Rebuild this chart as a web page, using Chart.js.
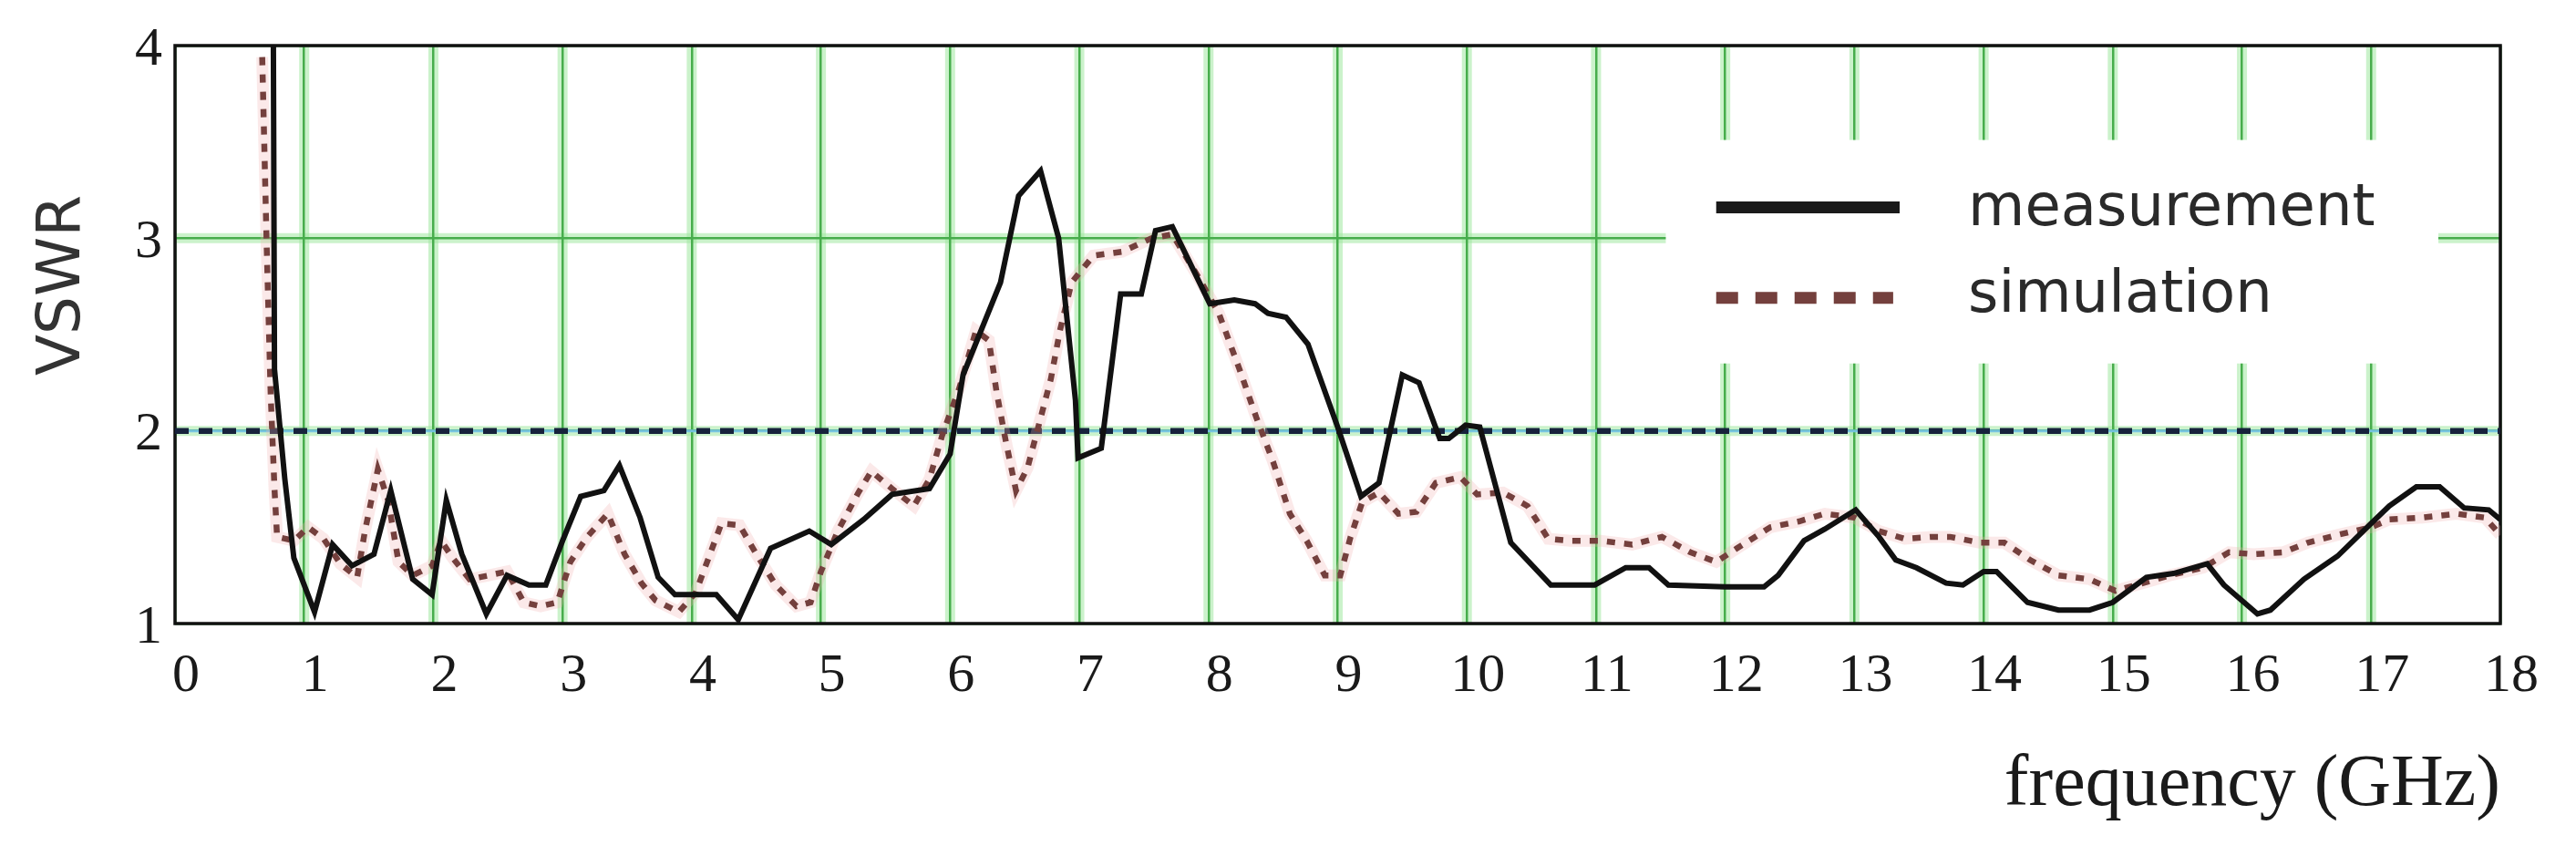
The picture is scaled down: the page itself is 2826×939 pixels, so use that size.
<!DOCTYPE html>
<html>
<head>
<meta charset="utf-8">
<script src="https://cdn.jsdelivr.net/npm/chart.js@4.4.1/dist/chart.umd.min.js"></script>
<style>
  html, body { margin: 0; padding: 0; background: #fff; }
  #wrap { width: 2826px; height: 939px; }
</style>
</head>
<body>
<div id="wrap"><canvas id="vswrChart" width="2826" height="939"></canvas></div>
<script>
// Measured VSWR (black solid line)
const measFreq = [0.76, 0.77, 0.85, 0.92, 1.08, 1.22, 1.37, 1.54, 1.67, 1.84, 1.99, 2.10, 2.22, 2.41, 2.57, 2.74, 2.87,
  3.00, 3.14, 3.32, 3.44, 3.60, 3.74, 3.87, 4.19, 4.36, 4.61, 4.91, 5.08, 5.33, 5.55, 5.84, 6.00, 6.10, 6.39, 6.53,
  6.70, 6.84, 6.97, 6.99, 7.17, 7.32, 7.48, 7.59, 7.72, 8.01, 8.20, 8.36, 8.46, 8.60, 8.77, 9.00, 9.18, 9.32, 9.50,
  9.63, 9.79, 9.86, 9.99, 10.10, 10.34, 10.65, 10.99, 11.23, 11.41, 11.56, 12.00, 12.30, 12.41, 12.61, 12.77, 13.01,
  13.19, 13.32, 13.48, 13.71, 13.84, 14.00, 14.10, 14.34, 14.58, 14.82, 15.00, 15.26, 15.47, 15.73, 15.86, 16.12,
  16.22, 16.48, 16.74, 17.00, 17.14, 17.35, 17.53, 17.72, 17.91, 18.00];
const measVswr = [4.30, 2.32, 1.75, 1.34, 1.06, 1.41, 1.30, 1.36, 1.69, 1.23, 1.15, 1.64, 1.36, 1.05, 1.25, 1.20, 1.20,
  1.43, 1.66, 1.69, 1.82, 1.55, 1.24, 1.15, 1.15, 1.02, 1.39, 1.48, 1.41, 1.54, 1.67, 1.70, 1.88, 2.29, 2.77, 3.22,
  3.35, 3.00, 2.16, 1.86, 1.91, 2.71, 2.71, 3.04, 3.06, 2.66, 2.68, 2.66, 2.61, 2.59, 2.45, 2.02, 1.66, 1.73, 2.29,
  2.25, 1.96, 1.96, 2.03, 2.02, 1.42, 1.20, 1.20, 1.29, 1.29, 1.20, 1.19, 1.19, 1.25, 1.43, 1.49, 1.59,
  1.45, 1.33, 1.29, 1.21, 1.20, 1.27, 1.27, 1.11, 1.07, 1.07, 1.11, 1.24, 1.26, 1.31, 1.20, 1.05,
  1.07, 1.23, 1.35, 1.52, 1.61, 1.71, 1.71, 1.60, 1.59, 1.54];

// Simulated VSWR (brown dotted line)
const simFreq = [0.675, 0.71, 0.74, 0.77, 0.79, 0.92, 1.03, 1.15, 1.28, 1.41, 1.47, 1.57, 1.65, 1.73, 1.84, 1.99, 2.06,
  2.15, 2.28, 2.43, 2.57, 2.70, 2.83, 2.96, 3.06, 3.19, 3.35, 3.48, 3.61, 3.72, 3.90, 4.03, 4.13, 4.23, 4.37, 4.50,
  4.65, 4.81, 4.92, 5.00, 5.13, 5.29, 5.39, 5.55, 5.72, 5.84, 5.94, 6.07, 6.20, 6.30, 6.36, 6.43, 6.51, 6.60, 6.69,
  6.78, 6.85, 6.94, 7.11, 7.33, 7.56, 7.72, 7.92, 8.08, 8.24, 8.37, 8.50, 8.63, 8.76, 8.90, 9.02, 9.10, 9.19, 9.32,
  9.47, 9.61, 9.76, 9.95, 10.08, 10.28, 10.47, 10.63, 10.80, 11.03, 11.28, 11.51, 11.73, 11.93, 12.09, 12.35, 12.57,
  12.77, 13.00, 13.19, 13.39, 13.60, 13.74, 13.97, 14.16, 14.36, 14.58, 14.82, 15.02, 15.18, 15.44, 15.70, 15.90,
  16.09, 16.32, 16.51, 16.74, 17.00, 17.14, 17.40, 17.66, 17.88, 18.00];
const simVswr = [3.94, 2.95, 2.20, 1.70, 1.45, 1.43, 1.50, 1.44, 1.31, 1.24, 1.48, 1.80, 1.64, 1.32, 1.25, 1.30, 1.43,
  1.34, 1.23, 1.25, 1.27, 1.11, 1.09, 1.11, 1.32, 1.45, 1.57, 1.36, 1.21, 1.12, 1.06, 1.16, 1.34, 1.52, 1.51, 1.36,
  1.20, 1.09, 1.11, 1.27, 1.48, 1.68, 1.79, 1.70, 1.61, 1.75, 1.98, 2.22, 2.52, 2.47, 2.20, 1.95, 1.69, 1.81, 2.04,
  2.27, 2.52, 2.77, 2.91, 2.93, 3.00, 3.02, 2.80, 2.61, 2.32, 2.07, 1.84, 1.57, 1.43, 1.25, 1.25, 1.45, 1.63, 1.68,
  1.57, 1.58, 1.73, 1.76, 1.67, 1.68, 1.61, 1.44, 1.43, 1.43, 1.41, 1.45, 1.37, 1.32, 1.39, 1.50, 1.53,
  1.57, 1.55, 1.48, 1.44, 1.45, 1.45, 1.42, 1.42, 1.33, 1.25, 1.23, 1.17, 1.20, 1.25, 1.29, 1.37,
  1.36, 1.37, 1.42, 1.46, 1.50, 1.54, 1.55, 1.57, 1.55, 1.46];

// VSWR = 2 reference level
const refFreq = [0, 18];
const refVswr = [2, 2];

const seriesNames = ['measurement', 'simulation'];

const toPoints = (xs, ys) => xs.map((x, i) => ({ x: x, y: ys[i] }));

const gridCore = '#47ad4c';
const gridGlow = 'rgba(160, 232, 160, 0.55)';
const simColor = '#74403d';

// Soft halo under the green grid lines, drawn before the scales
const gridGlowPlugin = {
    id: 'gridGlow',
    beforeDraw(chart) {
        const { ctx, chartArea: a, scales: { x, y } } = chart;
        ctx.save();
        ctx.fillStyle = '#fff';
        ctx.fillRect(0, 0, chart.width, chart.height);
        ctx.strokeStyle = gridGlow;
        ctx.lineWidth = 11;
        for (let v = 1; v < 18; v++) {
            const px = x.getPixelForValue(v);
            ctx.beginPath(); ctx.moveTo(px, a.top); ctx.lineTo(px, a.bottom); ctx.stroke();
        }
        [2, 3].forEach(v => {
            const py = y.getPixelForValue(v);
            ctx.beginPath(); ctx.moveTo(a.left, py); ctx.lineTo(a.right, py); ctx.stroke();
        });
        ctx.restore();
    }
};

// Frame, legend box and y title
const framePlugin = {
    id: 'frame',
    beforeDatasetsDraw(chart) {
        const { ctx, chartArea: a, scales: { x, y } } = chart;
        ctx.save();
        // white legend box hides the grid behind it
        const bx0 = x.getPixelForValue(11.54), bx1 = x.getPixelForValue(17.52);
        const by0 = y.getPixelForValue(3.51), by1 = y.getPixelForValue(2.35);
        ctx.fillStyle = '#fff';
        ctx.fillRect(bx0, by0, bx1 - bx0, by1 - by0);
        // black frame
        ctx.strokeStyle = '#111';
        ctx.lineWidth = 3.5;
        ctx.strokeRect(a.left, a.top, a.right - a.left, a.bottom - a.top);
        ctx.restore();
    },
    afterDatasetsDraw(chart) {
        const { ctx, scales: { x, y } } = chart;
        ctx.save();
        const lx0 = x.getPixelForValue(11.93);
        // measurement sample
        ctx.strokeStyle = '#1a1a1a';
        ctx.lineWidth = 13;
        ctx.beginPath();
        ctx.moveTo(lx0, y.getPixelForValue(3.16));
        ctx.lineTo(x.getPixelForValue(13.35), y.getPixelForValue(3.16));
        ctx.stroke();
        // simulation sample
        ctx.strokeStyle = simColor;
        ctx.lineWidth = 13;
        ctx.setLineDash([24, 19]);
        ctx.beginPath();
        ctx.moveTo(lx0, y.getPixelForValue(2.69));
        ctx.lineTo(x.getPixelForValue(13.30), y.getPixelForValue(2.69));
        ctx.stroke();
        ctx.setLineDash([]);
        // legend text
        ctx.fillStyle = '#2a2a2a';
        ctx.font = '64px "DejaVu Sans"';
        ctx.textBaseline = 'alphabetic';
        ctx.textAlign = 'left';
        const tx = x.getPixelForValue(13.88);
        ctx.fillText(seriesNames[0], tx, y.getPixelForValue(3.07));
        ctx.fillText(seriesNames[1], tx, y.getPixelForValue(2.62));
        // y axis title
        ctx.translate(70, 313);
        ctx.rotate(-Math.PI / 2);
        ctx.textAlign = 'center';
        ctx.textBaseline = 'middle';
        ctx.font = '66px "DejaVu Sans"';
        ctx.fillStyle = '#333';
        ctx.fillText('VSWR', 0, 0);
        ctx.restore();
    }
};

const ctx = document.getElementById('vswrChart').getContext('2d');
// Chart.js paints datasets from last to first, so the top line comes first
new Chart(ctx, {
    type: 'line',
    data: {
        datasets: [
            {
                label: seriesNames[0],
                data: toPoints(measFreq, measVswr),
                borderColor: '#111',
                borderWidth: 6,
                pointRadius: 0,
                tension: 0
            },
            {
                label: seriesNames[1],
                data: toPoints(simFreq, simVswr),
                borderColor: simColor,
                borderWidth: 6.5,
                borderDash: [9, 10],
                pointRadius: 0,
                tension: 0
            },
            {
                label: seriesNames[1] + '-halo',
                data: toPoints(simFreq, simVswr),
                borderColor: 'rgba(240, 175, 175, 0.28)',
                borderWidth: 13,
                pointRadius: 0,
                tension: 0
            },
            {
                label: 'ref',
                data: toPoints(refFreq, refVswr),
                borderColor: '#17223c',
                borderWidth: 6.5,
                borderDash: [15, 11],
                pointRadius: 0
            },
            {
                label: 'ref-halo',
                data: toPoints(refFreq, refVswr),
                borderColor: 'rgba(120, 195, 235, 0.9)',
                borderWidth: 3,
                pointRadius: 0
            }
        ]
    },
    options: {
        responsive: false,
        devicePixelRatio: 1,
        animation: false,
        layout: { padding: { top: 43, right: 83, left: 0, bottom: 0 } },
        plugins: {
            legend: { display: false },
            tooltip: { enabled: false }
        },
        scales: {
            x: {
                type: 'linear',
                min: 0,
                max: 18,
                afterFit: s => { s.height = 255; },
                ticks: {
                    stepSize: 1,
                    autoSkip: false,
                    maxRotation: 0,
                    labelOffset: 12,
                    padding: 22,
                    color: '#1a1a1a',
                    font: { family: '"Liberation Serif", serif', size: 60 }
                },
                grid: { color: gridCore, lineWidth: 2.5, drawTicks: false },
                border: { display: false },
                title: {
                    display: true,
                    text: 'frequency (GHz)',
                    align: 'end',
                    color: '#1a1a1a',
                    font: { family: '"Liberation Serif", serif', size: 80 },
                    padding: { top: 0, bottom: 29 }
                }
            },
            y: {
                type: 'linear',
                min: 1,
                max: 4,
                afterFit: s => { s.width = 192; },
                ticks: {
                    stepSize: 1,
                    labelOffset: 5,
                    padding: 14,
                    color: '#1a1a1a',
                    font: { family: '"Liberation Serif", serif', size: 60 }
                },
                grid: { color: gridCore, lineWidth: 2.5, drawTicks: false },
                border: { display: false }
            }
        }
    },
    plugins: [gridGlowPlugin, framePlugin]
});
</script>
</body>
</html>
